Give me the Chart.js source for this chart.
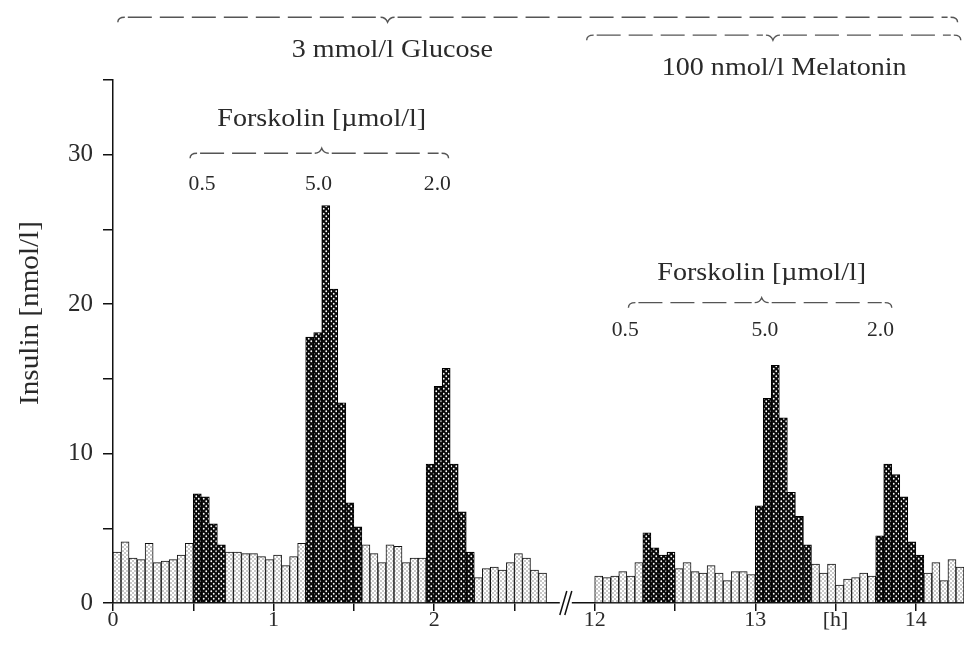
<!DOCTYPE html>
<html>
<head>
<meta charset="utf-8">
<title>Insulin / Forskolin</title>
<script src="https://cdn.jsdelivr.net/npm/chart.js@4/dist/chart.umd.min.js"></script>
<style>
  body { margin: 0; background: #fff; }
</style>
</head>
<body>
<canvas id="insulinChart" width="964" height="658"></canvas>

<script type="text/javascript">
// 3-min fractions, insulin in nmol/l
var fractionH = 0.05;

var seg1Start = 0;
var seg1Values = [3.4, 4.1, 3.0, 2.9, 4.0, 2.7, 2.8, 2.9, 3.2, 4.0,
                  7.3, 7.1, 5.3, 3.9,
                  3.4, 3.4, 3.3, 3.3, 3.1, 2.9, 3.2, 2.5, 3.1, 4.0,
                  17.8, 18.1, 26.6, 21.0, 13.4, 6.7, 5.1,
                  3.9, 3.3, 2.7, 3.9, 3.8, 2.7, 3.0, 3.0,
                  9.3, 14.5, 15.7, 9.3, 6.1, 3.4,
                  1.7, 2.3, 2.4, 2.2, 2.7, 3.3, 3.0, 2.2, 2.0];

var seg2Start = 12;
var seg2Values = [1.8, 1.7, 1.8, 2.1, 1.8, 2.7,
                  4.7, 3.7, 3.2, 3.4,
                  2.3, 2.7, 2.1, 2.0, 2.5, 2.0, 1.5, 2.1, 2.1, 1.9,
                  6.5, 13.7, 15.9, 12.4, 7.4, 5.8, 3.9,
                  2.6, 2.0, 2.6, 1.2, 1.6, 1.7, 2.0, 1.8,
                  4.5, 9.3, 8.6, 7.1, 4.1, 3.2,
                  2.0, 2.7, 1.5, 2.9, 2.4];

// forskolin pulses [from h, to h]
var forskolinPulses = [[0.5, 0.7], [1.2, 1.55], [1.95, 2.25],
                       [12.3, 12.5], [13.0, 13.35], [13.75, 14.05]];
var forskolinDoses = ['0.5', '5.0', '2.0'];

// x ticks (axis position) and their labels
var xTickPos = [0, 0.5, 1, 1.5, 2, 2.5, 3, 3.5, 4, 4.5, 5];
var xTickText = {0: '0', 1: '1', 2: '2', 3: '12', 4: '13', 4.5: '[h]', 5: '14'};
var yTicks = [0, 10, 20, 30];

// axis is broken between 2.8 h and 12 h
var gapHours = 9;
function axisPos(h) { return h > 6 ? h - gapHours : h; }

function isPulse(t) {
    for (var p = 0; p < forskolinPulses.length; p++) {
        if (t > forskolinPulses[p][0] && t < forskolinPulses[p][1]) return true;
    }
    return false;
}

var lightBars = [], darkBars = [];
function addSegment(start, values) {
    for (var i = 0; i < values.length; i++) {
        var t = start + (i + 0.5) * fractionH;
        var pt = {x: axisPos(t), y: values[i]};
        if (isPulse(t)) darkBars.push(pt); else lightBars.push(pt);
    }
}
addSegment(seg1Start, seg1Values);
addSegment(seg2Start, seg2Values);

function makePattern(bg, dot, size, r) {
    var c = document.createElement('canvas');
    c.width = size; c.height = size;
    var g = c.getContext('2d');
    g.fillStyle = bg;
    g.fillRect(0, 0, size, size);
    g.fillStyle = dot;
    g.beginPath(); g.arc(size / 4, size / 4, r, 0, Math.PI * 2); g.fill();
    g.beginPath(); g.arc(size * 3 / 4, size * 3 / 4, r, 0, Math.PI * 2); g.fill();
    return document.getElementById('insulinChart').getContext('2d').createPattern(c, 'repeat');
}

var serif = "'Liberation Serif', 'DejaVu Serif', serif";
var ink = '#2a2a2a';

function drawText(ctx, str, x, y, size, rot) {
    ctx.save();
    ctx.translate(x, y);
    if (rot) ctx.rotate(rot);
    ctx.scale(1.08, 1);
    ctx.font = size + 'px ' + serif;
    ctx.fillStyle = ink;
    ctx.textAlign = 'center';
    ctx.textBaseline = 'middle';
    ctx.fillText(str, 0, 0);
    ctx.restore();
}

// dashed brace, ends bent down, cusp pointing down (dir 1) or up (dir -1)
function drawBrace(ctx, x0, xm, x1, y, dir) {
    ctx.save();
    ctx.strokeStyle = '#555';
    ctx.lineWidth = 1.4;
    ctx.beginPath();
    ctx.moveTo(x0, y + 5); ctx.quadraticCurveTo(x0, y, x0 + 7, y);
    ctx.moveTo(x1, y + 5); ctx.quadraticCurveTo(x1, y, x1 - 7, y);
    ctx.moveTo(xm - 7, y); ctx.quadraticCurveTo(xm - 2, y, xm, y + 5 * dir);
    ctx.quadraticCurveTo(xm + 2, y, xm + 7, y);
    ctx.stroke();
    ctx.setLineDash([24, 8]);
    ctx.beginPath();
    ctx.moveTo(x0 + 10, y); ctx.lineTo(xm - 10, y);
    ctx.moveTo(xm + 10, y); ctx.lineTo(x1 - 10, y);
    ctx.stroke();
    ctx.restore();
}

// braces: from h, cusp h, to h, line y, label y, text
var braces = [
    {from: 0.03, mid: 1.71, to: 14.26, y: 39.2, textY: 37.0, textH: 1.74, text: '3 mmol/l Glucose'},
    {from: 11.95, mid: 13.11, to: 14.28, y: 38.0, textY: 35.8, textH: 13.18, text: '100 nmol/l Melatonin'}
];
var forskolinMarks = [
    {from: 0.48, mid: 1.30, to: 2.09, y: 30.1, textY: 32.4, doseY: 28.0, doseH: [0.555, 1.28, 2.02]},
    {from: 12.21, mid: 13.04, to: 13.85, y: 20.1, textY: 22.1, doseY: 18.2, doseH: [12.19, 13.06, 13.78]}
];

var overlay = {
    id: 'overlay',
    afterDraw: function(chart) {
        var ctx = chart.ctx, xs = chart.scales.x, ys = chart.scales.y;
        var px = function(h) { return xs.getPixelForValue(axisPos(h)); };

        // axis break
        var bx = xs.getPixelForValue(2.82), by = ys.getPixelForValue(0);
        ctx.save();
        ctx.fillStyle = '#fff';
        ctx.fillRect(bx - 6, by - 3, 12, 6);
        ctx.strokeStyle = '#111';
        ctx.lineWidth = 1.5;
        ctx.beginPath();
        ctx.moveTo(bx - 6, by + 12); ctx.lineTo(bx + 1, by - 12);
        ctx.moveTo(bx - 1, by + 12); ctx.lineTo(bx + 6, by - 12);
        ctx.stroke();
        ctx.restore();

        drawText(ctx, 'Insulin [nmol/l]', 31, 313, 27, -Math.PI / 2);

        braces.forEach(function(b) {
            drawBrace(ctx, px(b.from), px(b.mid), px(b.to), ys.getPixelForValue(b.y), 1);
            drawText(ctx, b.text, px(b.textH), ys.getPixelForValue(b.textY), 26);
        });
        forskolinMarks.forEach(function(f) {
            drawBrace(ctx, px(f.from), px(f.mid), px(f.to), ys.getPixelForValue(f.y), -1);
            drawText(ctx, 'Forskolin [\u00b5mol/l]', px(f.mid), ys.getPixelForValue(f.textY), 26);
            for (var d = 0; d < forskolinDoses.length; d++) {
                drawText(ctx, forskolinDoses[d], px(f.doseH[d]), ys.getPixelForValue(f.doseY), 20);
            }
        });
    }
};

var lightFill = makePattern('#ffffff', '#666', 4, 0.7);
var darkFill = makePattern('#0a0a0a', '#ffffff', 5, 0.9);

var myChart = new Chart(document.getElementById('insulinChart'), {
    type: 'bar',
    data: {
        datasets: [{
            label: 'basal',
            data: lightBars,
            backgroundColor: lightFill,
            borderColor: '#111',
            borderWidth: 1,
            grouped: false,
            barPercentage: 1,
            categoryPercentage: 1
        }, {
            label: 'forskolin',
            data: darkBars,
            backgroundColor: darkFill,
            borderColor: '#000',
            borderWidth: 1,
            grouped: false,
            barPercentage: 1,
            categoryPercentage: 1
        }]
    },
    options: {
        responsive: false,
        animation: false,
        layout: { padding: { top: 80, right: 0, bottom: 0, left: 0 } },
        plugins: { legend: { display: false }, tooltip: { enabled: false } },
        scales: {
            x: {
                type: 'linear',
                offset: false,
                min: 0,
                max: 5.3,
                afterFit: function(axis) { axis.height = 55; },
                afterBuildTicks: function(axis) {
                    axis.ticks = xTickPos.map(function(v) { return {value: v}; });
                },
                grid: { offset: false, drawOnChartArea: false, drawTicks: true, tickLength: 8, color: '#111', lineWidth: 1.5 },
                border: { display: true, color: '#111', width: 1.5 },
                ticks: {
                    autoSkip: false,
                    maxRotation: 0,
                    padding: -4,
                    color: ink,
                    font: { family: serif, size: 22 },
                    callback: function(v) { return xTickText[v] !== undefined ? xTickText[v] : ''; }
                }
            },
            y: {
                min: 0,
                max: 35,
                afterFit: function(axis) { axis.width = 113; },
                grid: { drawOnChartArea: false, drawTicks: true, tickLength: 10, color: '#111', lineWidth: 1.5 },
                border: { display: true, color: '#111', width: 1.5 },
                ticks: {
                    stepSize: 5,
                    padding: 10,
                    color: ink,
                    font: { family: serif, size: 25 },
                    callback: function(v) { return yTicks.indexOf(v) >= 0 ? v : ''; }
                }
            }
        }
    },
    plugins: [overlay]
});
</script>
</body>
</html>
